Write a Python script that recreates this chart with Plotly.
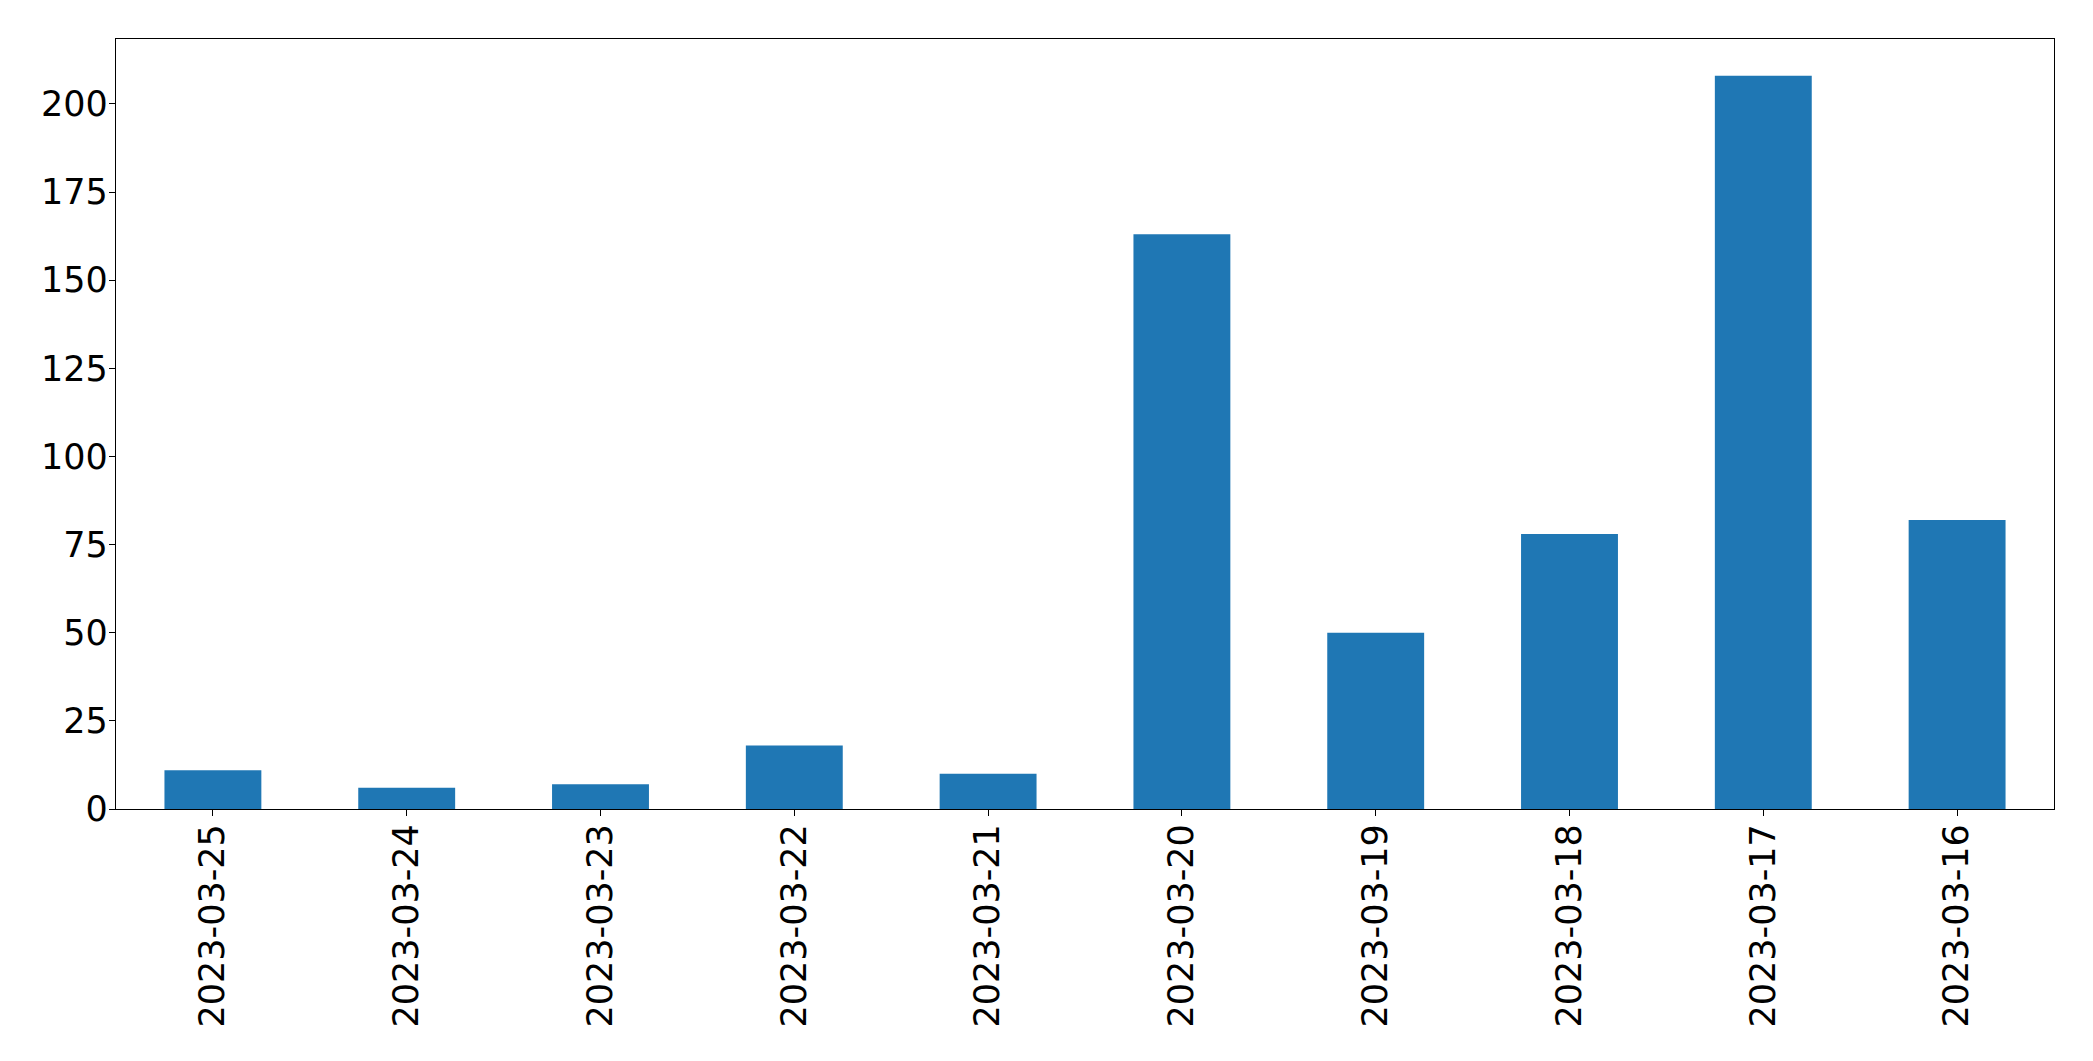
import plotly.graph_objects as go

dates = ["2023-03-25", "2023-03-24", "2023-03-23", "2023-03-22", "2023-03-21",
         "2023-03-20", "2023-03-19", "2023-03-18", "2023-03-17", "2023-03-16"]
counts = [11, 6, 7, 18, 10, 163, 50, 78, 208, 82]
y_ticks = [0, 25, 50, 75, 100, 125, 150, 175, 200]

fig = go.Figure(go.Bar(x=dates, y=counts, width=0.5, marker=dict(color="#1f77b4", line=dict(width=0))))

font = dict(family="DejaVu Sans", size=35, color="black")
fig.update_layout(
    width=2085, height=1053,
    margin=dict(l=108, r=39, t=31, b=252),
    paper_bgcolor="white", plot_bgcolor="white",
    showlegend=False,
    font=font,
)
fig.update_xaxes(
    type="category", range=[-0.5, 9.5], tickangle=-90,
    showline=True, linecolor="black", linewidth=1.3, mirror=True,
    ticks="outside", ticklen=6, tickwidth=1.3, tickcolor="black",
    showgrid=False, zeroline=False, tickfont=font, ticklabelstandoff=-6,
)
fig.update_yaxes(
    range=[0, 218.4], tickvals=y_ticks, ticktext=[str(v) for v in y_ticks],
    showline=True, linecolor="black", linewidth=1.3, mirror=True,
    ticks="outside", ticklen=6, tickwidth=1.3, tickcolor="black",
    showgrid=False, zeroline=False, tickfont=font, ticklabelstandoff=-6,
)
fig.write_html("out.html")
